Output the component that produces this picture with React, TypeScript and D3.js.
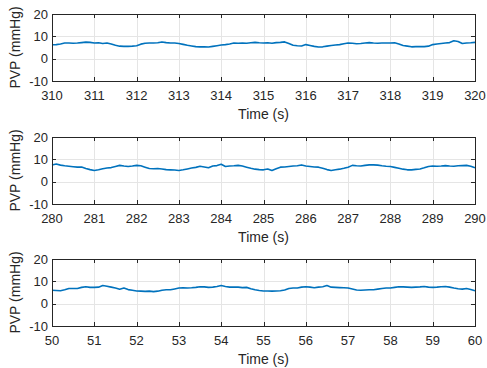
import React from "react";
import * as d3 from "d3";

const WIDTH = 487;
const HEIGHT = 368;

// Sample spacing of the recordings (seconds)
const SAMPLE_STEP = 0.1;

// Window start times (s) for each panel, top to bottom
const windowStarts = [310, 280, 50];

// PVP (mmHg) sampled every 0.1 s over each 10 s window
const pvp310 = [
  6.2, 6.3, 6.6, 7.0, 7.0, 6.9, 7.0, 7.2, 7.4, 7.3,
  7.0, 7.1, 6.8, 7.0, 6.6, 6.0, 5.6, 5.5, 5.5, 5.6,
  5.8, 6.5, 6.9, 7.0, 7.0, 7.1, 7.5, 7.2, 7.0, 7.0,
  6.8, 6.4, 6.0, 5.7, 5.4, 5.3, 5.3, 5.2, 5.5, 5.8,
  6.1, 6.3, 6.6, 7.0, 6.9, 7.0, 6.9, 7.1, 7.3, 7.1,
  7.0, 7.1, 6.9, 7.2, 7.3, 7.5, 6.8, 6.0, 5.8, 5.7,
  6.3, 5.9, 5.5, 5.2, 5.3, 5.6, 5.9, 6.1, 6.3, 6.7,
  7.0, 6.9, 6.7, 6.8, 7.0, 7.2, 7.0, 6.9, 7.0, 7.0,
  7.0, 7.1, 6.6, 5.9, 5.6, 5.3, 5.4, 5.4, 5.4, 5.6,
  6.3, 6.6, 6.8, 7.0, 7.2, 8.0, 7.7, 6.8, 7.0, 7.1,
  7.3,
];

const pvp280 = [
  7.5, 7.9, 7.4, 7.1, 6.9, 6.7, 6.5, 6.6, 5.9, 5.4,
  5.0, 5.3, 5.8, 6.1, 6.3, 6.8, 7.3, 7.0, 6.8, 7.0,
  7.3, 7.1, 6.5, 5.9, 5.8, 5.9, 5.7, 5.4, 5.3, 5.2,
  5.0, 5.3, 5.7, 6.1, 6.4, 6.9, 6.6, 6.2, 7.0, 7.2,
  7.8, 6.8, 7.0, 7.1, 7.3, 7.0, 6.5, 6.0, 5.6, 5.4,
  5.3, 5.7, 5.0, 5.8, 6.5, 6.6, 6.8, 7.0, 7.1, 7.5,
  7.0, 6.8, 6.6, 6.5, 6.0, 5.4, 5.0, 5.3, 5.6, 6.0,
  6.5, 7.3, 7.1, 7.0, 7.3, 7.5, 7.5, 7.4, 7.1, 6.9,
  6.8, 6.4, 6.0, 5.6, 5.3, 5.3, 5.5, 5.7, 6.2, 6.8,
  7.0, 6.9, 7.0, 7.2, 7.0, 6.9, 7.1, 7.2, 7.3, 6.9,
  6.2,
];

const pvp50 = [
  6.0, 5.9, 5.8, 6.2, 6.8, 6.8, 6.8, 7.3, 7.6, 7.3,
  7.3, 7.4, 8.1, 7.8, 7.4, 7.0, 6.5, 7.0, 6.3, 6.0,
  5.7, 5.6, 5.5, 5.6, 5.4, 5.6, 6.0, 6.2, 6.2, 6.6,
  7.0, 7.1, 7.0, 7.1, 7.3, 7.6, 7.5, 7.3, 7.4, 7.7,
  8.1, 7.7, 7.4, 7.4, 7.4, 7.2, 7.3, 6.7, 6.2, 5.9,
  5.7, 5.7, 5.6, 5.7, 5.8, 6.1, 6.8, 7.0, 7.0, 7.4,
  7.6, 7.4, 7.1, 7.4, 7.6, 8.1, 7.4, 7.3, 7.2, 7.1,
  7.0, 6.6, 6.1, 6.0, 6.1, 6.2, 6.2, 6.5, 6.8, 7.0,
  7.0, 7.3, 7.6, 7.5, 7.4, 7.3, 7.4, 7.5, 7.7, 7.4,
  7.3, 7.4, 7.6, 7.7, 7.4, 7.0, 6.7, 6.5, 6.8, 6.3,
  5.8,
];

const seriesList = [pvp310, pvp280, pvp50];

const yTicks = [-10, 0, 10, 20];
const yDomain = [-10, 20];
const xLabel = "Time (s)";
const yLabel = "PVP (mmHg)";

const panelTops = [14, 137, 259];
const PANEL_H = 67;
const LEFT = 52;
const RIGHT = 475;

const AXIS_COLOR = "#262626";
const GRID_COLOR = "#e5e5e5";
const LINE_COLOR = "#0072BD";
const FONT = "'Liberation Sans', Arial, Helvetica, sans-serif";
const TICK_LEN = 4;

function Panel({ start, values, top }: { start: number; values: number[]; top: number }) {
  const bottom = top + PANEL_H;
  const x = d3.scaleLinear().domain([start, start + 10]).range([LEFT, RIGHT]);
  const y = d3.scaleLinear().domain(yDomain).range([bottom, top]);
  const xTicks = x.ticks(10);
  const pts: [number, number][] = values.map((v, i) => [start + i * SAMPLE_STEP, v]);
  const line = d3
    .line<[number, number]>()
    .x((d) => x(d[0]))
    .y((d) => y(d[1]));
  const px = (v: number) => Math.round(v) + 0.5;

  return (
    <g>
      {/* grid */}
      {xTicks.map((t) => (
        <line key={"gx" + t} x1={px(x(t))} x2={px(x(t))} y1={top} y2={bottom} stroke={GRID_COLOR} strokeWidth={1} />
      ))}
      {yTicks.map((t) => (
        <line key={"gy" + t} x1={LEFT} x2={RIGHT} y1={px(y(t))} y2={px(y(t))} stroke={GRID_COLOR} strokeWidth={1} />
      ))}
      {/* data */}
      <path d={line(pts) ?? ""} fill="none" stroke={LINE_COLOR} strokeWidth={1.6} strokeLinejoin="round" />
      {/* box */}
      <rect x={px(LEFT)} y={px(top)} width={RIGHT - LEFT} height={PANEL_H} fill="none" stroke={AXIS_COLOR} strokeWidth={1} />
      {/* ticks */}
      {xTicks.map((t) => (
        <g key={"tx" + t}>
          <line x1={px(x(t))} x2={px(x(t))} y1={bottom} y2={bottom - TICK_LEN} stroke={AXIS_COLOR} />
          <line x1={px(x(t))} x2={px(x(t))} y1={top} y2={top + TICK_LEN} stroke={AXIS_COLOR} />
          <text x={x(t)} y={bottom + 18.5} textAnchor="middle" fontSize={13} fill={AXIS_COLOR} fontFamily={FONT}>
            {t}
          </text>
        </g>
      ))}
      {yTicks.map((t) => (
        <g key={"ty" + t}>
          <line x1={LEFT} x2={LEFT + TICK_LEN} y1={px(y(t))} y2={px(y(t))} stroke={AXIS_COLOR} />
          <line x1={RIGHT} x2={RIGHT - TICK_LEN} y1={px(y(t))} y2={px(y(t))} stroke={AXIS_COLOR} />
          <text x={48} y={y(t) + 4.7} textAnchor="end" fontSize={13} fill={AXIS_COLOR} fontFamily={FONT}>
            {t}
          </text>
        </g>
      ))}
      <text x={(LEFT + RIGHT) / 2} y={bottom + 38} textAnchor="middle" fontSize={14} fill={AXIS_COLOR} fontFamily={FONT}>
        {xLabel}
      </text>
      <text
        transform={`translate(20,${(top + bottom) / 2}) rotate(-90)`}
        textAnchor="middle"
        fontSize={14}
        fill={AXIS_COLOR}
        fontFamily={FONT}
      >
        {yLabel}
      </text>
    </g>
  );
}

export default function App() {
  return (
    <svg
      width={WIDTH}
      height={HEIGHT}
      style={{ position: "absolute", left: 0, top: 0, background: "#fff" }}
    >
      <rect x={0} y={0} width={WIDTH} height={HEIGHT} fill="#fff" />
      {windowStarts.map((s, i) => (
        <Panel key={s} start={s} values={seriesList[i]} top={panelTops[i]} />
      ))}
    </svg>
  );
}
